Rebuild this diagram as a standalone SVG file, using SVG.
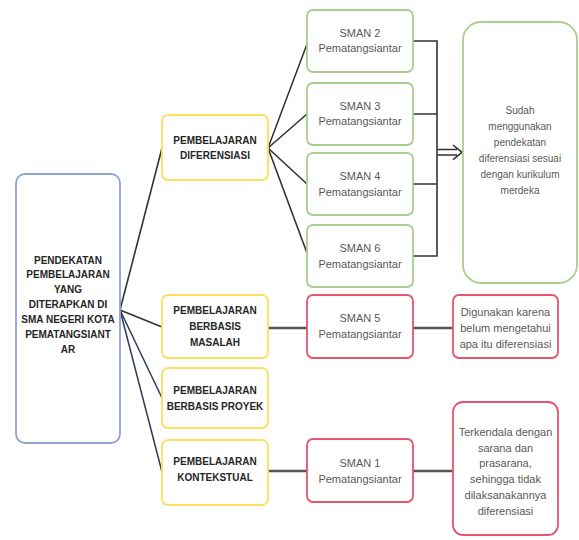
<svg xmlns="http://www.w3.org/2000/svg" width="579" height="540" viewBox="0 0 579 540">
<style>
text{font-family:"Liberation Sans",Arial,sans-serif;text-anchor:middle;dominant-baseline:central}
.h{font-size:10px;font-weight:bold;fill:#262626}
.t{font-size:11px;fill:#595959}
.box{fill:#fff;stroke-width:1.8}
.blue{stroke:#8fa3d2}
.yel{stroke:#ffdf5e}
.grn{stroke:#a8cf90}
.red{stroke:#e8556b}
.ln{fill:none;stroke:#333;stroke-width:1.6}
.thick{fill:none;stroke:#555;stroke-width:2.4}
.nav{fill:none;stroke:#2c3b5a;stroke-width:1.5}
</style>
<rect width="579" height="540" fill="#fff"/>
<g id="connectors">
<path class="ln" d="M120,310 L162,148"/>
<path class="ln" d="M120,310 L162,327"/>
<path class="nav" d="M120,310 L162,398"/>
<path class="nav" d="M120,310 L162,472"/>
<path class="ln" d="M268,148 L307,44"/>
<path class="ln" d="M268,148 L307,114"/>
<path class="ln" d="M268,148 L307,184"/>
<path class="ln" d="M268,148 L307,253"/>
<path class="thick" d="M268,328 L307,328"/>
<path class="thick" d="M413,328 L453,328"/>
<path class="thick" d="M268,471 L307,471"/>
<path class="thick" d="M413,471 L453,471"/>
<path class="ln" d="M413,41 L437,41 L437,256 L413,256 M413,114 L437,114 M413,184 L437,184"/>
<path class="ln" d="M437,149.5 L457,149.5 M437,155 L457,155 M453,145 L462,152.3 L453,159.6"/>
</g>
<g id="root">
<rect class="box blue" x="16" y="174" width="104" height="269" rx="9"/>
<text class="h" x="68" y="260">PENDEKATAN</text>
<text class="h" x="68" y="274">PEMBELAJARAN</text>
<text class="h" x="68" y="289">YANG</text>
<text class="h" x="68" y="304">DITERAPKAN DI</text>
<text class="h" x="68" y="319">SMA NEGERI KOTA</text>
<text class="h" x="68" y="334">PEMATANGSIANT</text>
<text class="h" x="68" y="349">AR</text>
</g>
<g id="diferensiasi">
<rect class="box yel" x="162" y="115" width="106" height="65" rx="6"/>
<text class="h" x="215" y="140">PEMBELAJARAN</text>
<text class="h" x="215" y="155">DIFERENSIASI</text>
</g>
<g id="masalah">
<rect class="box yel" x="162" y="295" width="106" height="63" rx="6"/>
<text class="h" x="215" y="310">PEMBELAJARAN</text>
<text class="h" x="215" y="326">BERBASIS</text>
<text class="h" x="215" y="342">MASALAH</text>
</g>
<g id="proyek">
<rect class="box yel" x="162" y="368" width="106" height="60" rx="6"/>
<text class="h" x="215" y="390">PEMBELAJARAN</text>
<text class="h" x="215" y="406">BERBASIS PROYEK</text>
</g>
<g id="kontekstual">
<rect class="box yel" x="162" y="440" width="106" height="65" rx="6"/>
<text class="h" x="215" y="461">PEMBELAJARAN</text>
<text class="h" x="215" y="477">KONTEKSTUAL</text>
</g>
<g id="sman2">
<rect class="box grn" x="307" y="10" width="106" height="62" rx="6"/>
<text class="t" x="360" y="33">SMAN 2</text>
<text class="t" x="360" y="48">Pematangsiantar</text>
</g>
<g id="sman3">
<rect class="box grn" x="307" y="83" width="106" height="62" rx="6"/>
<text class="t" x="360" y="106">SMAN 3</text>
<text class="t" x="360" y="121">Pematangsiantar</text>
</g>
<g id="sman4">
<rect class="box grn" x="307" y="153" width="106" height="62" rx="6"/>
<text class="t" x="360" y="176">SMAN 4</text>
<text class="t" x="360" y="192">Pematangsiantar</text>
</g>
<g id="sman6">
<rect class="box grn" x="307" y="225" width="106" height="62" rx="6"/>
<text class="t" x="360" y="248">SMAN 6</text>
<text class="t" x="360" y="264">Pematangsiantar</text>
</g>
<g id="sman5">
<rect class="box red" x="307" y="295" width="106" height="63" rx="6"/>
<text class="t" x="360" y="318">SMAN 5</text>
<text class="t" x="360" y="334">Pematangsiantar</text>
</g>
<g id="sman1">
<rect class="box red" x="307" y="439" width="106" height="63" rx="6"/>
<text class="t" x="360" y="463">SMAN 1</text>
<text class="t" x="360" y="479">Pematangsiantar</text>
</g>
<g id="hasil-diferensiasi">
<rect class="box grn" x="463" y="22" width="114" height="261" rx="18"/>
<text class="t" x="520" y="110" style="font-size:10px">Sudah</text>
<text class="t" x="520" y="126" style="font-size:10px">menggunakan</text>
<text class="t" x="520" y="142" style="font-size:10px">pendekatan</text>
<text class="t" x="520" y="158" style="font-size:10px">diferensiasi sesuai</text>
<text class="t" x="520" y="174" style="font-size:10px">dengan kurikulum</text>
<text class="t" x="520" y="190" style="font-size:10px">merdeka</text>
</g>
<g id="hasil-masalah">
<rect class="box red" x="453" y="295" width="105" height="63" rx="6"/>
<text class="t" x="505.5" y="312">Digunakan karena</text>
<text class="t" x="505.5" y="328">belum mengetahui</text>
<text class="t" x="505.5" y="344">apa itu diferensiasi</text>
</g>
<g id="hasil-kontekstual">
<rect class="box red" x="453" y="402" width="105" height="133" rx="10"/>
<text class="t" x="505.5" y="432">Terkendala dengan</text>
<text class="t" x="505.5" y="448">sarana dan</text>
<text class="t" x="505.5" y="463">prasarana,</text>
<text class="t" x="505.5" y="479">sehingga tidak</text>
<text class="t" x="505.5" y="495">dilaksanakannya</text>
<text class="t" x="505.5" y="511">diferensiasi</text>
</g>
</svg>
